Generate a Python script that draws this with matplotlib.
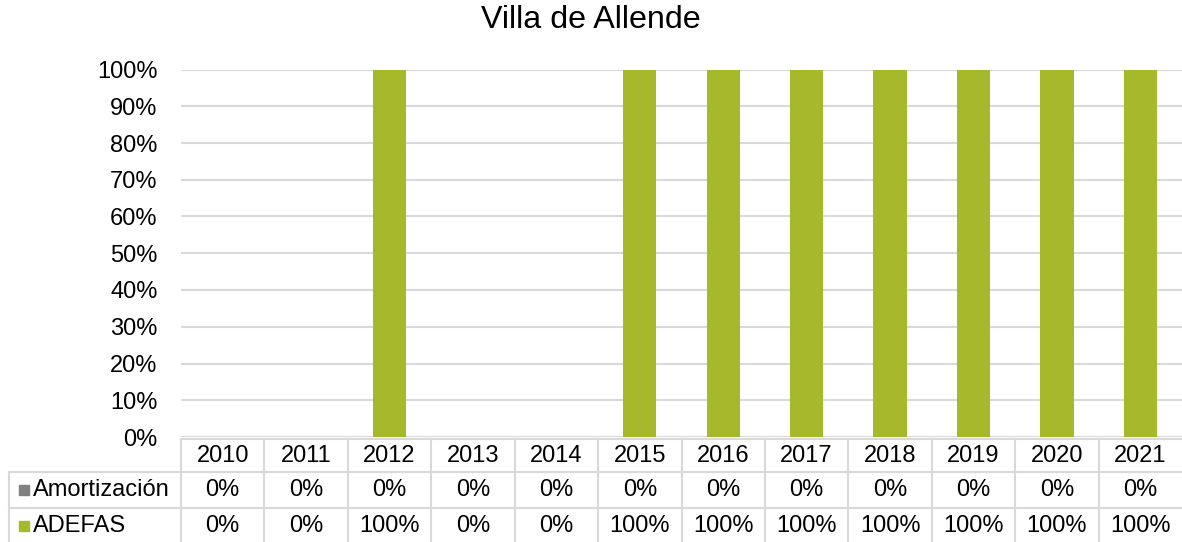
import matplotlib
matplotlib.use("Agg")
import matplotlib.pyplot as plt
from matplotlib.lines import Line2D
from matplotlib.patches import Rectangle
from matplotlib.transforms import blended_transform_factory
import numpy as np

plt.rcParams['font.family'] = ['Liberation Sans', 'DejaVu Sans']

title = "Villa de Allende"
years = ["2010", "2011", "2012", "2013", "2014", "2015", "2016", "2017",
         "2018", "2019", "2020", "2021"]
series_names = ["Amortización", "ADEFAS"]
amortizacion = [0, 0, 0, 0, 0, 0, 0, 0, 0, 0, 0, 0]
adefas = [0, 0, 100, 0, 0, 100, 100, 100, 100, 100, 100, 100]
y_ticks = [0, 10, 20, 30, 40, 50, 60, 70, 80, 90, 100]

c_amort = "#808080"
c_adefas = "#a6b92a"
grid_c = "#d9d9d9"
FS = 17

W, H = 1182, 542
fig = plt.figure(figsize=(W / 100, H / 100), dpi=100)
ax_left, ax_right, ax_bottom_px, ax_top_px = 181, 1182, 437, 69.5
ax = fig.add_axes([ax_left / W, 1 - ax_bottom_px / H,
                   (ax_right - ax_left) / W, (ax_bottom_px - ax_top_px) / H])

x = np.arange(len(years))
ax.bar(x, adefas, width=0.40, color=c_adefas, zorder=3)
ax.bar(x, amortizacion, width=0.40, bottom=adefas, color=c_amort, zorder=3)

ax.set_xlim(-0.5, len(years) - 0.5)
ax.set_ylim(0, 100)
ax.set_yticks(y_ticks)
ax.set_yticklabels([f"{v}%" for v in y_ticks], fontsize=FS)
ax.tick_params(axis='y', length=0, pad=17)
ax.set_xticks([])
for s in ax.spines.values():
    s.set_visible(False)
ax.grid(axis='y', color=grid_c, linewidth=1.5, zorder=0)
ax.set_axisbelow(True)

fig.text(591 / W, 1 - 20 / H, title, ha='center', va='center', fontsize=23.2)

def fy(py):
    return 1 - py / H

def fx(px):
    return px / W

tr = blended_transform_factory(ax.transData, fig.transFigure)

# horizontal table lines
lw = 1.5
fig.add_artist(Line2D([fx(ax_left), fx(W)], [fy(439), fy(439)], color=grid_c, lw=lw))
for py in (472, 508):
    fig.add_artist(Line2D([fx(9), fx(W)], [fy(py), fy(py)], color=grid_c, lw=lw))
# vertical lines
fig.add_artist(Line2D([fx(9), fx(9)], [fy(472), fy(H)], color=grid_c, lw=lw))
for b in np.arange(-0.5, len(years) - 0.5 + 0.01, 1.0)[:-1]:
    fig.add_artist(Line2D([b, b], [fy(439), fy(H)], color=grid_c, lw=lw,
                          transform=tr))

# header
for i, yr in enumerate(years):
    fig.text(i, fy(456), yr, transform=tr, ha='center', va='center', fontsize=FS)
rows = [(amortizacion, c_amort, 490), (adefas, c_adefas, 526)]
for (vals, col, py), name in zip(rows, series_names):
    for i, v in enumerate(vals):
        fig.text(i, fy(py), f"{v}%", transform=tr, ha='center', va='center',
                 fontsize=FS)
    fig.add_artist(Rectangle((fx(19), fy(py + 5)), 10 / W, 10 / H,
                             transform=fig.transFigure, color=col))
    fig.text(fx(33), fy(py), name, ha='left', va='center', fontsize=FS)

fig.savefig("out.png", dpi=100)
